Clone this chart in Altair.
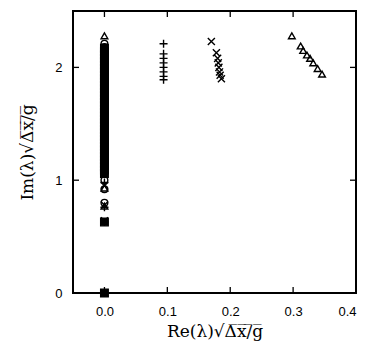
import altair as alt
import pandas as pd

# Unstable branch markers
plus_re = [0.094, 0.094, 0.094, 0.094, 0.094, 0.094, 0.094, 0.094]
plus_im = [2.21, 2.12, 2.08, 2.04, 2.00, 1.96, 1.92, 1.89]

cross_re = [0.170, 0.178, 0.180, 0.181, 0.182, 0.183, 0.184, 0.186]
cross_im = [2.23, 2.13, 2.08, 2.04, 2.00, 1.96, 1.93, 1.90]

tri_re = [0.298, 0.312, 0.316, 0.322, 0.327, 0.332, 0.339, 0.346]
tri_im = [2.28, 2.19, 2.15, 2.11, 2.08, 2.04, 1.99, 1.94]

# Neutral eigenvalues on the imaginary axis (Re = 0)
col_square_im = [2.17, 2.14, 2.11, 2.08, 2.05, 2.02, 1.99, 1.96, 1.93, 1.90, 1.87,
                 1.84, 1.81, 1.78, 1.75, 1.72, 1.69, 1.66, 1.63, 1.60, 1.57, 1.54,
                 1.51, 1.48, 1.45, 1.42, 1.39, 1.36, 1.33, 1.30, 1.27, 1.24, 1.21,
                 1.18, 1.15, 1.12, 1.09, 1.06, 0.63, 0.00]
col_circle_im = [2.21, 2.18, 1.00, 0.92, 0.80]
col_tri_im = [2.28, 0.93, 0.77, 0.00]
col_plus_im = [0.98, 0.76, 0.63, 0.00]
col_cross_im = [0.95, 0.78, 0.64, 0.00]

x_ticks = [0.0, 0.1, 0.2, 0.3, 0.4]
y_ticks = [0, 1, 2]

W, H = 283, 282

PLUS = "M-1,0L1,0M0,-1L0,1"
XSH = "M-1,-1L1,1M-1,1L1,-1"

rows = []
def add(res, ims, kind):
    for r, i in zip(res, ims):
        rows.append({"re": r, "im": i, "kind": kind})

add(plus_re, plus_im, "plus")
add(cross_re, cross_im, "x")
add(tri_re, tri_im, "tri")
add([0.0] * len(col_square_im), col_square_im, "sq")
add([0.0] * len(col_circle_im), col_circle_im, "circ")
add([0.0] * len(col_tri_im), col_tri_im, "tri")
add([0.0] * len(col_plus_im), col_plus_im, "plus")
add([0.0] * len(col_cross_im), col_cross_im, "x")
df = pd.DataFrame(rows)

xs = alt.Scale(domain=[-0.05, 0.4], nice=False, zero=False)
ys = alt.Scale(domain=[0, 2.5], nice=False, zero=False)

xaxis = alt.Axis(values=x_ticks, format=".1f", ticks=False, domain=False, grid=False,
                 labelFont="Liberation Sans", labelFontSize=13, labelColor="black",
                 labelPadding=12,
                 title="Re(λ)√Δ̅x̅/̅g̅", titleFont="DejaVu Serif", titleFontSize=17,
                 titleFontWeight="normal", titleColor="black", titlePadding=5)
yaxis = alt.Axis(values=y_ticks, format="d", ticks=False, domain=False, grid=False,
                 labelFont="Liberation Sans", labelFontSize=13, labelColor="black",
                 labelPadding=11,
                 title="Im(λ)√Δ̅x̅/̅g̅", titleFont="DejaVu Serif", titleFontSize=17,
                 titleFontWeight="normal", titleColor="black", titlePadding=18)

base = alt.Chart(df)
enc = dict(x=alt.X("re:Q", scale=xs, axis=xaxis), y=alt.Y("im:Q", scale=ys, axis=yaxis))

def pts(kind, shape, size):
    return base.transform_filter(alt.datum.kind == kind).mark_point(
        shape=shape, size=size, filled=False, color="black", strokeWidth=1.4, opacity=1
    ).encode(**enc)

layers = [
    base.transform_filter(alt.datum.kind == "sq").mark_point(
        shape="square", size=60, filled=True, fill="black", stroke="black",
        strokeWidth=1.2, fillOpacity=1, strokeOpacity=1, opacity=1
    ).encode(**enc),
    pts("circ", "circle", 45),
    pts("tri", "triangle-up", 45),
    pts("plus", PLUS, 64),
    pts("x", XSH, 50),
]

xt = pd.DataFrame({"t": x_ticks[:-1]})
yt = pd.DataFrame({"t": y_ticks})
tick_style = dict(color="black", strokeWidth=1.3)
ticks = [
    alt.Chart(xt).mark_rule(**tick_style).encode(x=alt.X("t:Q", scale=xs), y=alt.value(H), y2=alt.value(H - 6)),
    alt.Chart(xt).mark_rule(**tick_style).encode(x=alt.X("t:Q", scale=xs), y=alt.value(0), y2=alt.value(6)),
    alt.Chart(yt).mark_rule(**tick_style).encode(y=alt.Y("t:Q", scale=ys), x=alt.value(0), x2=alt.value(6)),
    alt.Chart(yt).mark_rule(**tick_style).encode(y=alt.Y("t:Q", scale=ys), x=alt.value(W), x2=alt.value(W - 6)),
]

frame = alt.Chart(yt).mark_rect(fill=None, fillOpacity=0, stroke="black", strokeWidth=1.8).encode(
    x=alt.value(0), x2=alt.value(W), y=alt.value(0), y2=alt.value(H)
)

chart = alt.layer(*layers, *ticks, frame).properties(
    width=W, height=H,
    autosize=alt.AutoSizeParams(type="none"),
    padding={"left": 65, "top": 3, "right": 3, "bottom": 54},
).configure_view(strokeWidth=0).configure(background="white")

chart.save("out.html", embed_options={"renderer": "svg", "actions": False})
